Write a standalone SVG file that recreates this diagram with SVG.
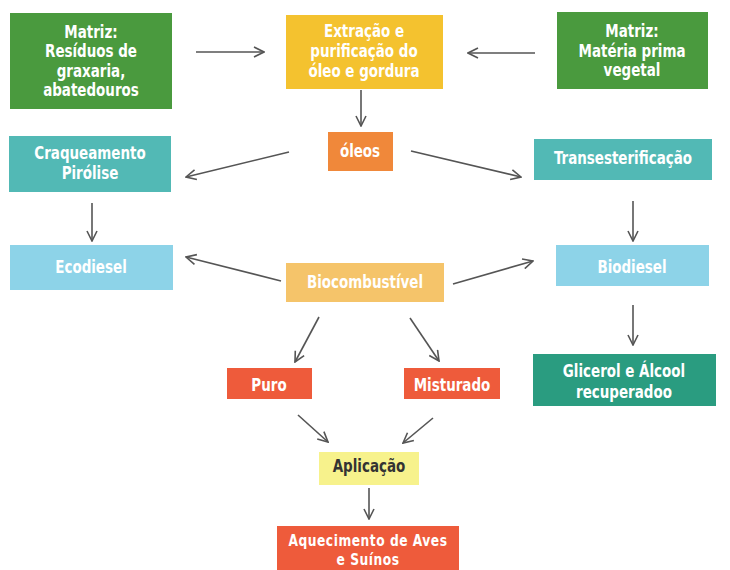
<svg xmlns="http://www.w3.org/2000/svg" width="730" height="570" viewBox="0 0 730 570">
<defs>
<marker id="ah" viewBox="0 0 12 12" refX="11" refY="6" markerWidth="12" markerHeight="12" markerUnits="userSpaceOnUse" orient="auto">
<polyline points="1,1 11,6 1,11" fill="none" stroke="#555" stroke-width="1.6"/>
</marker>
<style>
.t{font-family:"DejaVu Sans Condensed","DejaVu Sans",sans-serif;font-weight:bold;font-size:17px;fill:#fff;text-anchor:middle;transform-box:fill-box;transform-origin:center;transform:scaleX(0.88)}
.d{fill:#333}
.s{font-size:15.5px;letter-spacing:0.6px}
.c line{stroke:#555;stroke-width:1.6;marker-end:url(#ah)}
</style>
</defs>
<rect width="730" height="570" fill="#fff"/>
<g class="c" id="connectors">
<line x1="196" y1="52" x2="264" y2="52"/>
<line x1="535" y1="53" x2="468" y2="53"/>
<line x1="361" y1="90" x2="361" y2="126"/>
<line x1="289" y1="152" x2="186" y2="177"/>
<line x1="411" y1="151" x2="521" y2="177"/>
<line x1="92" y1="203" x2="92" y2="241"/>
<line x1="633" y1="201" x2="633" y2="241"/>
<line x1="281" y1="281" x2="186" y2="257"/>
<line x1="453" y1="284" x2="533" y2="261"/>
<line x1="319" y1="317" x2="295" y2="362"/>
<line x1="410" y1="318" x2="439" y2="361"/>
<line x1="633" y1="305" x2="633" y2="345"/>
<line x1="298" y1="415" x2="328" y2="442"/>
<line x1="433" y1="418" x2="403" y2="443"/>
<line x1="369" y1="488" x2="369" y2="519"/>
</g>
<g id="matriz-residuos">
<rect x="10" y="13" width="162" height="96" fill="#4a9a3e"/>
<text class="t" x="91" y="38">Matriz:</text>
<text class="t" x="91" y="57">Resíduos de</text>
<text class="t" x="91" y="77">graxaria,</text>
<text class="t" x="91" y="96">abatedouros</text>
</g>
<g id="extracao">
<rect x="286" y="15" width="157" height="74" fill="#f4c22f"/>
<text class="t" x="364" y="37">Extração e</text>
<text class="t" x="364" y="57">purificação do</text>
<text class="t" x="364" y="77">óleo e gordura</text>
</g>
<g id="matriz-vegetal">
<rect x="557" y="12" width="151" height="77" fill="#4a9a3e"/>
<text class="t" x="632" y="37">Matriz:</text>
<text class="t" x="632" y="57">Matéria prima</text>
<text class="t" x="632" y="76">vegetal</text>
</g>
<g id="oleos">
<rect x="328" y="132" width="65" height="39" fill="#f0883a"/>
<text class="t" x="360" y="157">óleos</text>
</g>
<g id="craqueamento">
<rect x="9" y="136" width="162" height="56" fill="#52b9b5"/>
<text class="t" x="90" y="159">Craqueamento</text>
<text class="t" x="90" y="179">Pirólise</text>
</g>
<g id="transesterificacao">
<rect x="534" y="139" width="178" height="41" fill="#52b9b5"/>
<text class="t" x="623" y="164">Transesterificação</text>
</g>
<g id="ecodiesel">
<rect x="10" y="245" width="163" height="45" fill="#8dd3e8"/>
<text class="t" x="91" y="273">Ecodiesel</text>
</g>
<g id="biocombustivel">
<rect x="286" y="263" width="158" height="39" fill="#f5c46a"/>
<text class="t" x="365" y="288">Biocombustível</text>
</g>
<g id="biodiesel">
<rect x="556" y="245" width="153" height="41" fill="#8dd3e8"/>
<text class="t" x="632" y="273">Biodiesel</text>
</g>
<g id="puro">
<rect x="227" y="368" width="85" height="31" fill="#ee5b3b"/>
<text class="t" x="269" y="391">Puro</text>
</g>
<g id="misturado">
<rect x="404" y="368" width="96" height="31" fill="#ee5b3b"/>
<text class="t" x="452" y="391">Misturado</text>
</g>
<g id="glicerol">
<rect x="533" y="354" width="183" height="52" fill="#2a9c80"/>
<text class="t" x="624" y="377">Glicerol e Álcool</text>
<text class="t" x="624" y="398">recuperadoo</text>
</g>
<g id="aplicacao">
<rect x="319" y="452" width="100" height="33" fill="#f7f28c"/>
<text class="t d" x="369" y="472">Aplicação</text>
</g>
<g id="aquecimento">
<rect x="277" y="526" width="182" height="44" fill="#ee5b3b"/>
<text class="t s" x="368" y="546">Aquecimento de Aves</text>
<text class="t s" x="368" y="565">e Suínos</text>
</g>
</svg>
